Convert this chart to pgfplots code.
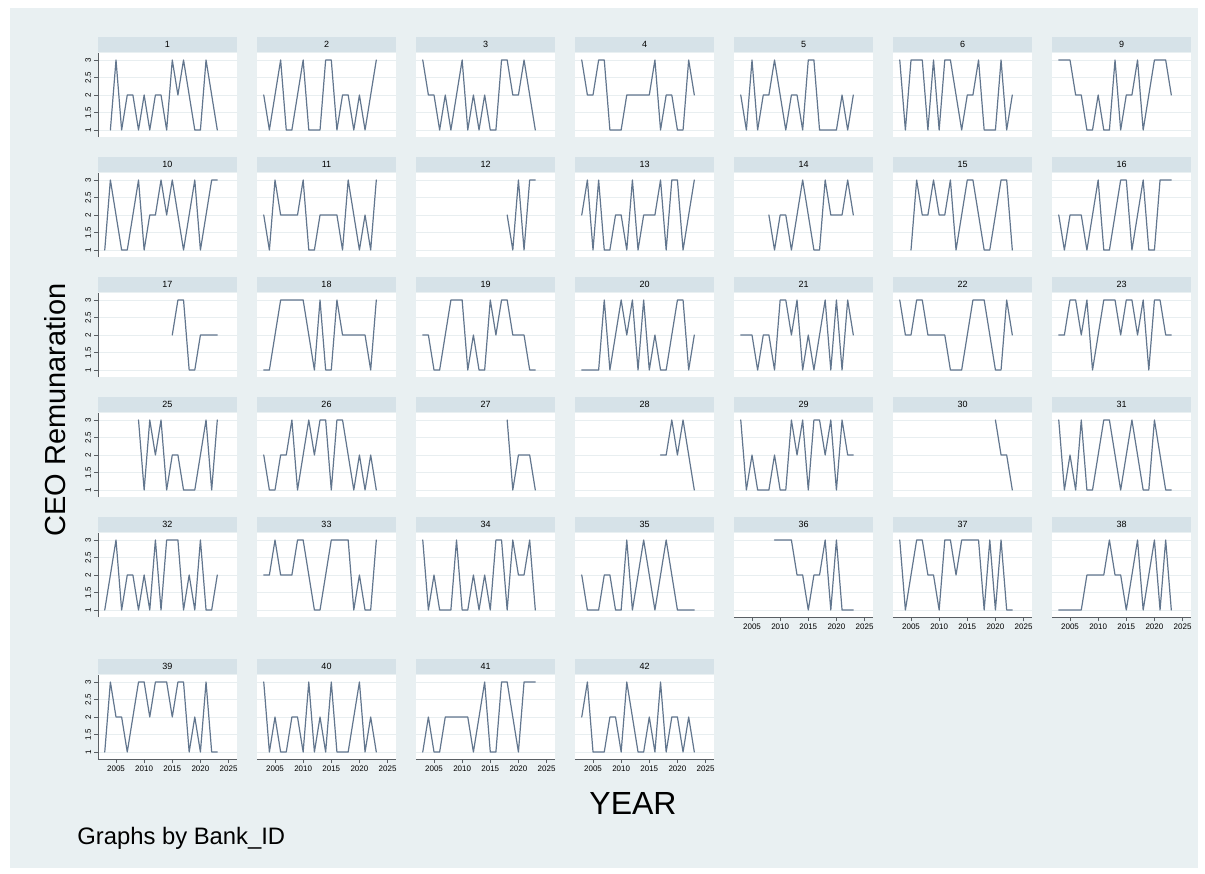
\documentclass[border=0pt]{standalone}
\usepackage{pgfplots}
\pgfplotsset{compat=1.18}
\usepackage{fontspec}
\setmainfont{Liberation Sans}
\definecolor{bgc}{RGB}{233,240,242}
\definecolor{stripc}{RGB}{214,226,232}
\definecolor{linec}{RGB}{98,118,142}
\definecolor{gridc}{RGB}{232,238,240}
\definecolor{axisc}{RGB}{90,95,100}
\pgfplotsset{
 panel/.style={
  scale only axis, width=69.5pt, height=42pt, anchor=north west,
  xmin=2001.8, xmax=2026.5, ymin=0.8, ymax=3.2,
  axis line style={draw=none},
  xtick={2005,2010,2015,2020,2025}, ytick={1,1.5,2,2.5,3},
  xticklabels={}, yticklabels={},
  tick align=outside, ytick pos=left, xtick pos=bottom,
  major tick length=2pt,
  xtick style={draw=none}, ytick style={draw=none},
  ymajorgrids, grid style={draw=gridc, line width=0.5pt},
  axis background/.style={fill=white},
  every axis title/.style={at={(0.5,1)}, anchor=south, fill=stripc, minimum width=69.5pt,
    minimum height=7.5pt, inner sep=0pt, yshift=0.3pt, font=\fontsize{4.5}{5}\selectfont},
 },
 yleft/.style={
  ytick style={draw=axisc, line width=0.4pt},
  yticklabels={1,1.5,2,2.5,3},
  yticklabel style={rotate=90, anchor=south, inner sep=1.3pt, font=\fontsize{4}{4}\selectfont},
  after end axis/.append code={\draw[axisc, line width=0.4pt] (rel axis cs:0,0) -- (rel axis cs:0,1);},
 },
 xbottom/.style={
  xtick style={draw=axisc, line width=0.4pt},
  xticklabels={2005,2010,2015,2020,2025},
  xticklabel style={inner sep=1.5pt, font=\fontsize{4}{4}\selectfont},
  after end axis/.append code={\draw[axisc, line width=0.4pt] (rel axis cs:0,0) -- (rel axis cs:1,0);},
 },
}
\newcommand{\panel}[5]{%
\begin{axis}[panel, at={(#1pt,#2pt)}, title={#3}, #4]
\addplot[draw=linec, line width=0.6pt, line join=round, line cap=round, no markers] coordinates {#5};
\end{axis}}
\begin{document}
\begin{tikzpicture}
\fill[white] (0,0) rectangle (602.5pt,-436.5pt);
\fill[bgc] (5pt,-4pt) rectangle (599pt,-434pt);
% row 1
\panel{49}{-26.5}{1}{yleft}{(2004,1)(2005,3)(2006,1)(2007,2)(2008,2)(2009,1)(2010,2)(2011,1)(2012,2)(2013,2)(2014,1)(2015,3)(2016,2)(2017,3)(2018,2)(2019,1)(2020,1)(2021,3)(2022,2)(2023,1)}
\panel{128.5}{-26.5}{2}{}{(2003,2)(2004,1)(2005,2)(2006,3)(2007,1)(2008,1)(2009,2)(2010,3)(2011,1)(2012,1)(2013,1)(2014,3)(2015,3)(2016,1)(2017,2)(2018,2)(2019,1)(2020,2)(2021,1)(2022,2)(2023,3)}
\panel{208}{-26.5}{3}{}{(2003,3)(2004,2)(2005,2)(2006,1)(2007,2)(2008,1)(2009,2)(2010,3)(2011,1)(2012,2)(2013,1)(2014,2)(2015,1)(2016,1)(2017,3)(2018,3)(2019,2)(2020,2)(2021,3)(2022,2)(2023,1)}
\panel{287.5}{-26.5}{4}{}{(2003,3)(2004,2)(2005,2)(2006,3)(2007,3)(2008,1)(2009,1)(2010,1)(2011,2)(2012,2)(2013,2)(2014,2)(2015,2)(2016,3)(2017,1)(2018,2)(2019,2)(2020,1)(2021,1)(2022,3)(2023,2)}
\panel{367}{-26.5}{5}{}{(2003,2)(2004,1)(2005,3)(2006,1)(2007,2)(2008,2)(2009,3)(2010,2)(2011,1)(2012,2)(2013,2)(2014,1)(2015,3)(2016,3)(2017,1)(2018,1)(2019,1)(2020,1)(2021,2)(2022,1)(2023,2)}
\panel{446.5}{-26.5}{6}{}{(2003,3)(2004,1)(2005,3)(2006,3)(2007,3)(2008,1)(2009,3)(2010,1)(2011,3)(2012,3)(2013,2)(2014,1)(2015,2)(2016,2)(2017,3)(2018,1)(2019,1)(2020,1)(2021,3)(2022,1)(2023,2)}
\panel{526}{-26.5}{9}{}{(2003,3)(2004,3)(2005,3)(2006,2)(2007,2)(2008,1)(2009,1)(2010,2)(2011,1)(2012,1)(2013,3)(2014,1)(2015,2)(2016,2)(2017,3)(2018,1)(2019,2)(2020,3)(2021,3)(2022,3)(2023,2)}
% row 2
\panel{49}{-86.5}{10}{yleft}{(2003,1)(2004,3)(2005,2)(2006,1)(2007,1)(2008,2)(2009,3)(2010,1)(2011,2)(2012,2)(2013,3)(2014,2)(2015,3)(2016,2)(2017,1)(2018,2)(2019,3)(2020,1)(2021,2)(2022,3)(2023,3)}
\panel{128.5}{-86.5}{11}{}{(2003,2)(2004,1)(2005,3)(2006,2)(2007,2)(2008,2)(2009,2)(2010,3)(2011,1)(2012,1)(2013,2)(2014,2)(2015,2)(2016,2)(2017,1)(2018,3)(2019,2)(2020,1)(2021,2)(2022,1)(2023,3)}
\panel{208}{-86.5}{12}{}{(2018,2)(2019,1)(2020,3)(2021,1)(2022,3)(2023,3)}
\panel{287.5}{-86.5}{13}{}{(2003,2)(2004,3)(2005,1)(2006,3)(2007,1)(2008,1)(2009,2)(2010,2)(2011,1)(2012,3)(2013,1)(2014,2)(2015,2)(2016,2)(2017,3)(2018,1)(2019,3)(2020,3)(2021,1)(2022,2)(2023,3)}
\panel{367}{-86.5}{14}{}{(2008,2)(2009,1)(2010,2)(2011,2)(2012,1)(2013,2)(2014,3)(2015,2)(2016,1)(2017,1)(2018,3)(2019,2)(2020,2)(2021,2)(2022,3)(2023,2)}
\panel{446.5}{-86.5}{15}{}{(2005,1)(2006,3)(2007,2)(2008,2)(2009,3)(2010,2)(2011,2)(2012,3)(2013,1)(2014,2)(2015,3)(2016,3)(2017,2)(2018,1)(2019,1)(2020,2)(2021,3)(2022,3)(2023,1)}
\panel{526}{-86.5}{16}{}{(2003,2)(2004,1)(2005,2)(2006,2)(2007,2)(2008,1)(2009,2)(2010,3)(2011,1)(2012,1)(2013,2)(2014,3)(2015,3)(2016,1)(2017,2)(2018,3)(2019,1)(2020,1)(2021,3)(2022,3)(2023,3)}
% row 3
\panel{49}{-146.5}{17}{yleft}{(2015,2)(2016,3)(2017,3)(2018,1)(2019,1)(2020,2)(2021,2)(2022,2)(2023,2)}
\panel{128.5}{-146.5}{18}{}{(2003,1)(2004,1)(2005,2)(2006,3)(2007,3)(2008,3)(2009,3)(2010,3)(2011,2)(2012,1)(2013,3)(2014,1)(2015,1)(2016,3)(2017,2)(2018,2)(2019,2)(2020,2)(2021,2)(2022,1)(2023,3)}
\panel{208}{-146.5}{19}{}{(2003,2)(2004,2)(2005,1)(2006,1)(2007,2)(2008,3)(2009,3)(2010,3)(2011,1)(2012,2)(2013,1)(2014,1)(2015,3)(2016,2)(2017,3)(2018,3)(2019,2)(2020,2)(2021,2)(2022,1)(2023,1)}
\panel{287.5}{-146.5}{20}{}{(2003,1)(2004,1)(2005,1)(2006,1)(2007,3)(2008,1)(2009,2)(2010,3)(2011,2)(2012,3)(2013,1)(2014,3)(2015,1)(2016,2)(2017,1)(2018,1)(2019,2)(2020,3)(2021,3)(2022,1)(2023,2)}
\panel{367}{-146.5}{21}{}{(2003,2)(2004,2)(2005,2)(2006,1)(2007,2)(2008,2)(2009,1)(2010,3)(2011,3)(2012,2)(2013,3)(2014,1)(2015,2)(2016,1)(2017,2)(2018,3)(2019,1)(2020,3)(2021,1)(2022,3)(2023,2)}
\panel{446.5}{-146.5}{22}{}{(2003,3)(2004,2)(2005,2)(2006,3)(2007,3)(2008,2)(2009,2)(2010,2)(2011,2)(2012,1)(2013,1)(2014,1)(2015,2)(2016,3)(2017,3)(2018,3)(2019,2)(2020,1)(2021,1)(2022,3)(2023,2)}
\panel{526}{-146.5}{23}{}{(2003,2)(2004,2)(2005,3)(2006,3)(2007,2)(2008,3)(2009,1)(2010,2)(2011,3)(2012,3)(2013,3)(2014,2)(2015,3)(2016,3)(2017,2)(2018,3)(2019,1)(2020,3)(2021,3)(2022,2)(2023,2)}
% row 4
\panel{49}{-206.5}{25}{yleft}{(2009,3)(2010,1)(2011,3)(2012,2)(2013,3)(2014,1)(2015,2)(2016,2)(2017,1)(2018,1)(2019,1)(2020,2)(2021,3)(2022,1)(2023,3)}
\panel{128.5}{-206.5}{26}{}{(2003,2)(2004,1)(2005,1)(2006,2)(2007,2)(2008,3)(2009,1)(2010,2)(2011,3)(2012,2)(2013,3)(2014,3)(2015,1)(2016,3)(2017,3)(2018,2)(2019,1)(2020,2)(2021,1)(2022,2)(2023,1)}
\panel{208}{-206.5}{27}{}{(2018,3)(2019,1)(2020,2)(2021,2)(2022,2)(2023,1)}
\panel{287.5}{-206.5}{28}{}{(2017,2)(2018,2)(2019,3)(2020,2)(2021,3)(2022,2)(2023,1)}
\panel{367}{-206.5}{29}{}{(2003,3)(2004,1)(2005,2)(2006,1)(2007,1)(2008,1)(2009,2)(2010,1)(2011,1)(2012,3)(2013,2)(2014,3)(2015,1)(2016,3)(2017,3)(2018,2)(2019,3)(2020,1)(2021,3)(2022,2)(2023,2)}
\panel{446.5}{-206.5}{30}{}{(2020,3)(2021,2)(2022,2)(2023,1)}
\panel{526}{-206.5}{31}{}{(2003,3)(2004,1)(2005,2)(2006,1)(2007,3)(2008,1)(2009,1)(2010,2)(2011,3)(2012,3)(2013,2)(2014,1)(2015,2)(2016,3)(2017,2)(2018,1)(2019,1)(2020,3)(2021,2)(2022,1)(2023,1)}
% row 5
\panel{49}{-266.5}{32}{yleft}{(2003,1)(2004,2)(2005,3)(2006,1)(2007,2)(2008,2)(2009,1)(2010,2)(2011,1)(2012,3)(2013,1)(2014,3)(2015,3)(2016,3)(2017,1)(2018,2)(2019,1)(2020,3)(2021,1)(2022,1)(2023,2)}
\panel{128.5}{-266.5}{33}{}{(2003,2)(2004,2)(2005,3)(2006,2)(2007,2)(2008,2)(2009,3)(2010,3)(2011,2)(2012,1)(2013,1)(2014,2)(2015,3)(2016,3)(2017,3)(2018,3)(2019,1)(2020,2)(2021,1)(2022,1)(2023,3)}
\panel{208}{-266.5}{34}{}{(2003,3)(2004,1)(2005,2)(2006,1)(2007,1)(2008,1)(2009,3)(2010,1)(2011,1)(2012,2)(2013,1)(2014,2)(2015,1)(2016,3)(2017,3)(2018,1)(2019,3)(2020,2)(2021,2)(2022,3)(2023,1)}
\panel{287.5}{-266.5}{35}{}{(2003,2)(2004,1)(2005,1)(2006,1)(2007,2)(2008,2)(2009,1)(2010,1)(2011,3)(2012,1)(2013,2)(2014,3)(2015,2)(2016,1)(2017,2)(2018,3)(2019,2)(2020,1)(2021,1)(2022,1)(2023,1)}
\panel{367}{-266.5}{36}{xbottom}{(2009,3)(2010,3)(2011,3)(2012,3)(2013,2)(2014,2)(2015,1)(2016,2)(2017,2)(2018,3)(2019,1)(2020,3)(2021,1)(2022,1)(2023,1)}
\panel{446.5}{-266.5}{37}{xbottom}{(2003,3)(2004,1)(2005,2)(2006,3)(2007,3)(2008,2)(2009,2)(2010,1)(2011,3)(2012,3)(2013,2)(2014,3)(2015,3)(2016,3)(2017,3)(2018,1)(2019,3)(2020,1)(2021,3)(2022,1)(2023,1)}
\panel{526}{-266.5}{38}{xbottom}{(2003,1)(2004,1)(2005,1)(2006,1)(2007,1)(2008,2)(2009,2)(2010,2)(2011,2)(2012,3)(2013,2)(2014,2)(2015,1)(2016,2)(2017,3)(2018,1)(2019,2)(2020,3)(2021,1)(2022,3)(2023,1)}
% row 6
\panel{49}{-337.5}{39}{yleft,xbottom}{(2003,1)(2004,3)(2005,2)(2006,2)(2007,1)(2008,2)(2009,3)(2010,3)(2011,2)(2012,3)(2013,3)(2014,3)(2015,2)(2016,3)(2017,3)(2018,1)(2019,2)(2020,1)(2021,3)(2022,1)(2023,1)}
\panel{128.5}{-337.5}{40}{xbottom}{(2003,3)(2004,1)(2005,2)(2006,1)(2007,1)(2008,2)(2009,2)(2010,1)(2011,3)(2012,1)(2013,2)(2014,1)(2015,3)(2016,1)(2017,1)(2018,1)(2019,2)(2020,3)(2021,1)(2022,2)(2023,1)}
\panel{208}{-337.5}{41}{xbottom}{(2003,1)(2004,2)(2005,1)(2006,1)(2007,2)(2008,2)(2009,2)(2010,2)(2011,2)(2012,1)(2013,2)(2014,3)(2015,1)(2016,1)(2017,3)(2018,3)(2019,2)(2020,1)(2021,3)(2022,3)(2023,3)}
\panel{287.5}{-337.5}{42}{xbottom}{(2003,2)(2004,3)(2005,1)(2006,1)(2007,1)(2008,2)(2009,2)(2010,1)(2011,3)(2012,2)(2013,1)(2014,1)(2015,2)(2016,1)(2017,3)(2018,1)(2019,2)(2020,2)(2021,1)(2022,2)(2023,1)}
% labels
\node[font=\fontsize{16}{18}\selectfont] at (316.5pt,-401.5pt) {YEAR};
\node[font=\fontsize{14.5}{16}\selectfont, rotate=90] at (27.5pt,-205pt) {CEO Remunaration};
\node[font=\fontsize{11.9}{13}\selectfont, anchor=west, inner sep=0pt] at (38.5pt,-419pt) {Graphs by Bank\_ID};
\end{tikzpicture}
\end{document}
